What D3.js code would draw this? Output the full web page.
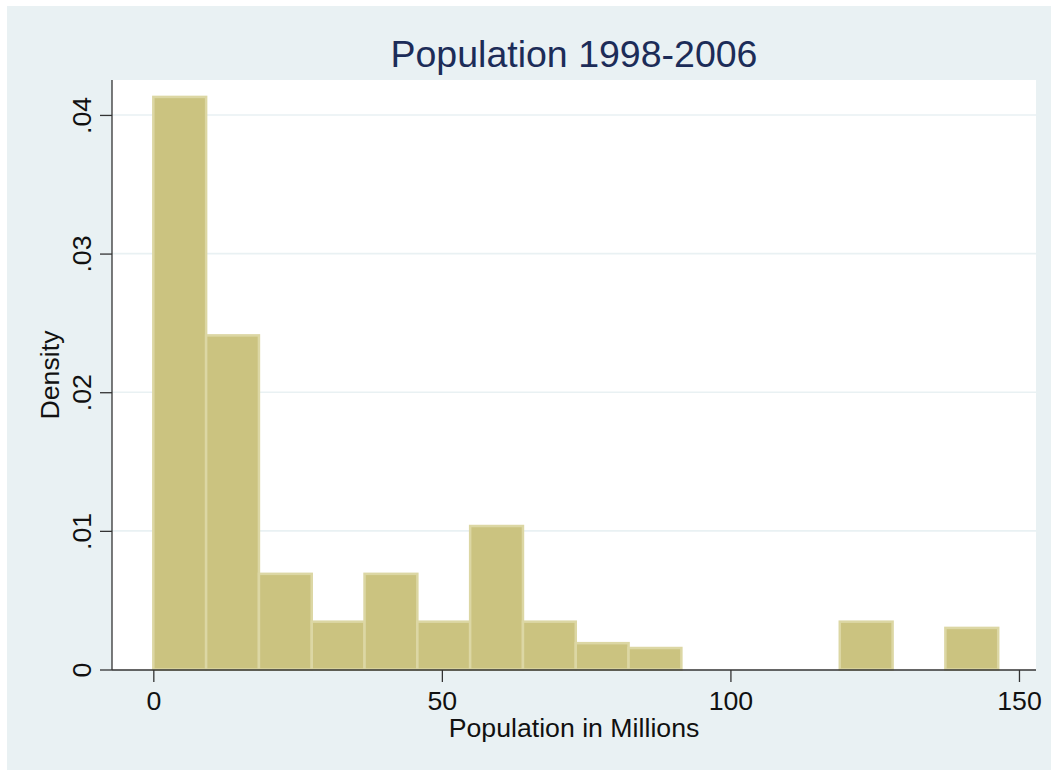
<!DOCTYPE html>
<html>
<head>
<meta charset="utf-8">
<script src="https://cdn.jsdelivr.net/npm/d3@7"></script>
<style>
  html, body { margin: 0; padding: 0; background: #ffffff; }
  svg { display: block; }
  text { font-family: "Liberation Sans", Arial, sans-serif; }
</style>
</head>
<body>
<svg id="chart" width="1051" height="770"></svg>
<script>
// ---- data ----
const binEdges = [0, 9.15, 18.3, 27.45, 36.6, 45.75, 54.9, 64.05, 73.2, 82.35, 91.5, 100.65, 109.8, 118.95, 128.1, 137.25, 146.4];
const densities = [0.0413, 0.0241, 0.0069, 0.00345, 0.0069, 0.00345, 0.01035, 0.00345, 0.0019, 0.00155, 0, 0, 0, 0.00345, 0, 0.0030];
const xTicks = [0, 50, 100, 150];
const yTicks = [0, 0.01, 0.02, 0.03, 0.04];
const yTickLabels = ["0", ".01", ".02", ".03", ".04"];
const titleText = "Population 1998-2006";
const xTitle = "Population in Millions";
const yTitle = "Density";

// ---- layout ----
const W = 1051, H = 770;
const plot = { left: 112, right: 1036, top: 80, bottom: 670 };
const labelSize = 26.7;

const svg = d3.select("#chart");

svg.append("rect").attr("x", 7).attr("y", 6).attr("width", W - 7).attr("height", H - 6)
  .attr("fill", "#e9f1f3");
svg.append("rect").attr("x", plot.left).attr("y", plot.top)
  .attr("width", plot.right - plot.left).attr("height", plot.bottom - plot.top)
  .attr("fill", "#ffffff");

const x = d3.scaleLinear().domain([-7.16, 152.95]).range([plot.left, plot.right]);
const y = d3.scaleLinear().domain([0, 0.04252]).range([669.5, plot.top]);

// gridlines
svg.append("g").selectAll("line").data(yTicks.filter(d => d > 0)).join("line")
  .attr("x1", plot.left).attr("x2", plot.right)
  .attr("y1", d => y(d)).attr("y2", d => y(d))
  .attr("stroke", "#e9f1f3").attr("stroke-width", 1.6);

// bars
const bins = densities.map((d, i) => ({ x0: binEdges[i], x1: binEdges[i + 1], d }))
  .filter(b => b.d > 0);
svg.append("g").selectAll("rect").data(bins).join("rect")
  .attr("x", b => x(b.x0)).attr("width", b => x(b.x1) - x(b.x0))
  .attr("y", b => y(b.d)).attr("height", b => y(0) - y(b.d))
  .attr("fill", "#cbc380").attr("stroke", "#dcd7a4").attr("stroke-width", 2.5);

// axes
const axisColor = "#333333";
const xAxis = d3.axisBottom(x).tickValues(xTicks).tickSize(12).tickSizeOuter(0)
  .tickFormat(d3.format("d"));
const gx = svg.append("g").attr("transform", `translate(0,${plot.bottom})`).call(xAxis);
gx.select(".domain").attr("d", `M${plot.left},0H${plot.right}`).attr("stroke", axisColor).attr("stroke-width", 1.3);
gx.selectAll(".tick line").attr("stroke", axisColor).attr("stroke-width", 1.3);
gx.selectAll(".tick text").attr("font-size", labelSize).attr("fill", "#111")
  .attr("font-family", "Liberation Sans, Arial, sans-serif")
  .attr("dy", null).attr("y", 40);

const yAxis = d3.axisLeft(y).tickValues(yTicks).tickSize(12).tickSizeOuter(0)
  .tickFormat((d, i) => yTickLabels[i]);
const gy = svg.append("g").attr("transform", `translate(${plot.left},0)`).call(yAxis);
gy.select(".domain").attr("d", `M0,${plot.top}V${plot.bottom}`).attr("stroke", axisColor).attr("stroke-width", 1.3);
gy.selectAll(".tick line").attr("stroke", axisColor).attr("stroke-width", 1.3);
gy.selectAll(".tick text").attr("font-size", labelSize).attr("fill", "#111")
  .attr("font-family", "Liberation Sans, Arial, sans-serif")
  .attr("x", null).attr("dy", null)
  .attr("text-anchor", "middle")
  .attr("transform", "translate(-21,0) rotate(-90)");

// titles
svg.append("text").attr("x", (plot.left + plot.right) / 2).attr("y", 67)
  .attr("text-anchor", "middle").attr("font-size", 37.5).attr("fill", "#1c2c58")
  .text(titleText);
svg.append("text").attr("x", (plot.left + plot.right) / 2).attr("y", 737)
  .attr("text-anchor", "middle").attr("font-size", labelSize).attr("fill", "#111")
  .text(xTitle);
svg.append("text").attr("transform", `translate(58.8,${(plot.top + plot.bottom) / 2}) rotate(-90)`)
  .attr("text-anchor", "middle").attr("font-size", labelSize).attr("fill", "#111")
  .text(yTitle);
</script>
</body>
</html>
